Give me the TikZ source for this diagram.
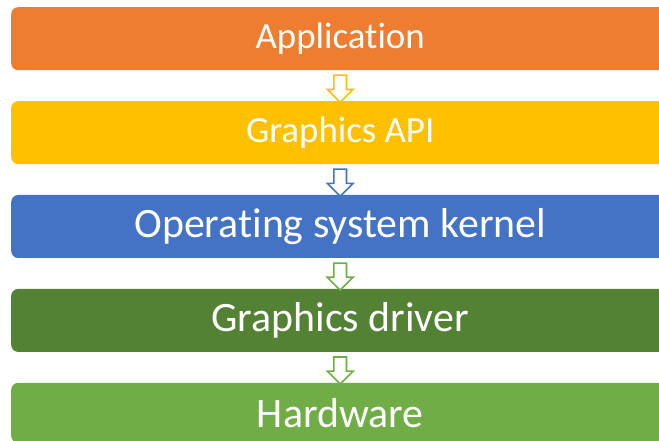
\documentclass[tikz,border=0pt]{standalone}
\usepackage{fontspec}
\setmainfont{Carlito}[Ligatures={NoCommon,NoContextual,NoRare}]
\usetikzlibrary{shapes.arrows, positioning, calc}

\begin{document}
\begin{tikzpicture}[x=1bp, y=-1bp, node distance=30.5bp,
  camada/.style={rectangle, rounded corners=7bp, minimum width=658bp,
    minimum height=63bp, inner sep=0pt, text=white, anchor=north west},
  seta/.style={single arrow, shape border rotate=270, fill=white,
    line width=1.6bp, minimum height=27bp, minimum width=24bp,
    single arrow head extend=6.5bp, inner sep=5.5bp}]
% --- CORES ---
\definecolor{laranja}{HTML}{ED7D31}
\definecolor{amarelo}{HTML}{FFC000}
\definecolor{azul}{HTML}{4472C4}
\definecolor{verdeesc}{HTML}{548235}
\definecolor{verde}{HTML}{70AD47}

\clip (0,0) rectangle (659,441);
\fill[white] (0,0) rectangle (659,441);

% LAYER 1: Camadas
\node[camada, fill=laranja] (app) at (11,7) {\fontsize{37}{44}\selectfont Applicat\kern0pt{}ion};
\node[camada, fill=amarelo, below=of app.south west, anchor=north west] (api) {\fontsize{37}{44}\selectfont Graphics API};
\node[camada, fill=azul, below=of api.south west, anchor=north west] (kernel) {\fontsize{42}{50}\selectfont Operat\kern0pt{}ing system kernel};
\node[camada, fill=verdeesc, below=of kernel.south west, anchor=north west] (driver) {\fontsize{42}{50}\selectfont Graphics driver};
\node[camada, fill=verde, minimum height=60bp, below=of driver.south west, anchor=north west] (hw) {\fontsize{42}{50}\selectfont Hardware};

% LAYER 2: Setas
\node[seta, draw=amarelo] (s1) at ($(app.south)!0.5!(api.north)$) {};
\node[seta, draw=azul] (s2) at ($(api.south)!0.5!(kernel.north)$) {};
\node[seta, draw=verde] (s3) at ($(kernel.south)!0.5!(driver.north)$) {};
\node[seta, draw=verde] (s4) at ($(driver.south)!0.5!(hw.north)$) {};
\end{tikzpicture}
\end{document}
